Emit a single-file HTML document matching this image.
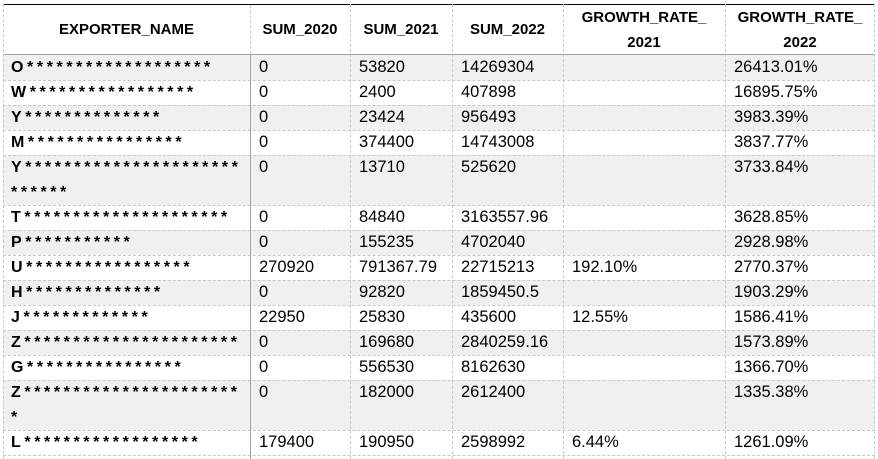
<!DOCTYPE html>
<html><head><meta charset="utf-8"><style>
body{margin:0;width:878px;height:459px;background:#fff;position:relative;overflow:hidden;font-family:"Liberation Sans",Arial,sans-serif;color:#000}
.r{position:absolute;left:3px;width:872px}
.g{background:#f0f0f0}
.h{position:absolute;border-top:1px dashed #c8c8c8;left:3px;width:872px;height:0}
.v{position:absolute;top:4px;height:455px;width:0;border-left:1px dashed #c8c8c8}
.t{position:absolute;font-size:16.5px;line-height:25px;white-space:nowrap}
.n{position:absolute;font-size:16px;font-weight:bold;line-height:25px;white-space:nowrap;letter-spacing:3.6px}
.hd{position:absolute;top:5px;height:49px;font-size:15px;font-weight:bold;display:flex;align-items:center;justify-content:center;text-align:center;line-height:25px}
</style></head><body>
<div class="r g" style="top:55px;height:25px"></div>
<div class="r g" style="top:105px;height:25px"></div>
<div class="r g" style="top:155px;height:50px"></div>
<div class="r g" style="top:230px;height:25px"></div>
<div class="r g" style="top:280px;height:25px"></div>
<div class="r g" style="top:330px;height:25px"></div>
<div class="r g" style="top:380px;height:50px"></div>
<div style="position:absolute;left:3px;top:4px;width:872px;height:0;border-top:1px solid #000"></div>
<div style="position:absolute;left:3px;top:54px;width:872px;height:0;border-top:1px solid #a0a0a0"></div>
<div class="h" style="top:80px"></div><div class="h" style="top:105px"></div><div class="h" style="top:130px"></div><div class="h" style="top:155px"></div><div class="h" style="top:205px"></div><div class="h" style="top:230px"></div><div class="h" style="top:255px"></div><div class="h" style="top:280px"></div><div class="h" style="top:305px"></div><div class="h" style="top:330px"></div><div class="h" style="top:355px"></div><div class="h" style="top:380px"></div><div class="h" style="top:430px"></div><div class="h" style="top:455px"></div>
<div class="v" style="left:3px"></div>
<div class="v" style="left:250px;top:5px;height:49px"></div>
<div style="position:absolute;left:250px;top:54px;height:405px;border-left:1px solid #a0a0a0"></div>
<div class="v" style="left:350px"></div><div class="v" style="left:452px"></div><div class="v" style="left:563px"></div><div class="v" style="left:725px"></div><div class="v" style="left:874px"></div>
<div class="hd" style="left:3px;width:247px">EXPORTER_NAME</div>
<div class="hd" style="left:250px;width:100px">SUM_2020</div>
<div class="hd" style="left:350px;width:102px">SUM_2021</div>
<div class="hd" style="left:452px;width:111px">SUM_2022</div>
<div class="hd" style="left:563px;width:162px">GROWTH_RATE_<br>2021</div>
<div class="hd" style="left:725px;width:150px">GROWTH_RATE_<br>2022</div>

<div class="n" style="left:11px;top:55px">O*******************</div>
<div class="n" style="left:11px;top:80px">W*****************</div>
<div class="n" style="left:11px;top:105px">Y**************</div>
<div class="n" style="left:11px;top:130px">M****************</div>
<div class="n" style="left:11px;top:155px">Y**********************<br>******</div>
<div class="n" style="left:11px;top:205px">T*********************</div>
<div class="n" style="left:11px;top:230px">P***********</div>
<div class="n" style="left:11px;top:255px">U*****************</div>
<div class="n" style="left:11px;top:280px">H**************</div>
<div class="n" style="left:11px;top:305px">J*************</div>
<div class="n" style="left:11px;top:330px">Z**********************</div>
<div class="n" style="left:11px;top:355px">G****************</div>
<div class="n" style="left:11px;top:380px">Z**********************<br>*</div>
<div class="n" style="left:11px;top:430px">L******************</div>

<div class="t" style="left:259px;top:55px">0</div><div class="t" style="left:359px;top:55px">53820</div><div class="t" style="left:461px;top:55px">14269304</div><div class="t" style="left:734px;top:55px">26413.01%</div>
<div class="t" style="left:259px;top:80px">0</div><div class="t" style="left:359px;top:80px">2400</div><div class="t" style="left:461px;top:80px">407898</div><div class="t" style="left:734px;top:80px">16895.75%</div>
<div class="t" style="left:259px;top:105px">0</div><div class="t" style="left:359px;top:105px">23424</div><div class="t" style="left:461px;top:105px">956493</div><div class="t" style="left:734px;top:105px">3983.39%</div>
<div class="t" style="left:259px;top:130px">0</div><div class="t" style="left:359px;top:130px">374400</div><div class="t" style="left:461px;top:130px">14743008</div><div class="t" style="left:734px;top:130px">3837.77%</div>
<div class="t" style="left:259px;top:155px">0</div><div class="t" style="left:359px;top:155px">13710</div><div class="t" style="left:461px;top:155px">525620</div><div class="t" style="left:734px;top:155px">3733.84%</div>
<div class="t" style="left:259px;top:205px">0</div><div class="t" style="left:359px;top:205px">84840</div><div class="t" style="left:461px;top:205px">3163557.96</div><div class="t" style="left:734px;top:205px">3628.85%</div>
<div class="t" style="left:259px;top:230px">0</div><div class="t" style="left:359px;top:230px">155235</div><div class="t" style="left:461px;top:230px">4702040</div><div class="t" style="left:734px;top:230px">2928.98%</div>
<div class="t" style="left:259px;top:255px">270920</div><div class="t" style="left:359px;top:255px">791367.79</div><div class="t" style="left:461px;top:255px">22715213</div><div class="t" style="left:572px;top:255px">192.10%</div><div class="t" style="left:734px;top:255px">2770.37%</div>
<div class="t" style="left:259px;top:280px">0</div><div class="t" style="left:359px;top:280px">92820</div><div class="t" style="left:461px;top:280px">1859450.5</div><div class="t" style="left:734px;top:280px">1903.29%</div>
<div class="t" style="left:259px;top:305px">22950</div><div class="t" style="left:359px;top:305px">25830</div><div class="t" style="left:461px;top:305px">435600</div><div class="t" style="left:572px;top:305px">12.55%</div><div class="t" style="left:734px;top:305px">1586.41%</div>
<div class="t" style="left:259px;top:330px">0</div><div class="t" style="left:359px;top:330px">169680</div><div class="t" style="left:461px;top:330px">2840259.16</div><div class="t" style="left:734px;top:330px">1573.89%</div>
<div class="t" style="left:259px;top:355px">0</div><div class="t" style="left:359px;top:355px">556530</div><div class="t" style="left:461px;top:355px">8162630</div><div class="t" style="left:734px;top:355px">1366.70%</div>
<div class="t" style="left:259px;top:380px">0</div><div class="t" style="left:359px;top:380px">182000</div><div class="t" style="left:461px;top:380px">2612400</div><div class="t" style="left:734px;top:380px">1335.38%</div>
<div class="t" style="left:259px;top:430px">179400</div><div class="t" style="left:359px;top:430px">190950</div><div class="t" style="left:461px;top:430px">2598992</div><div class="t" style="left:572px;top:430px">6.44%</div><div class="t" style="left:734px;top:430px">1261.09%</div>
</body></html>
